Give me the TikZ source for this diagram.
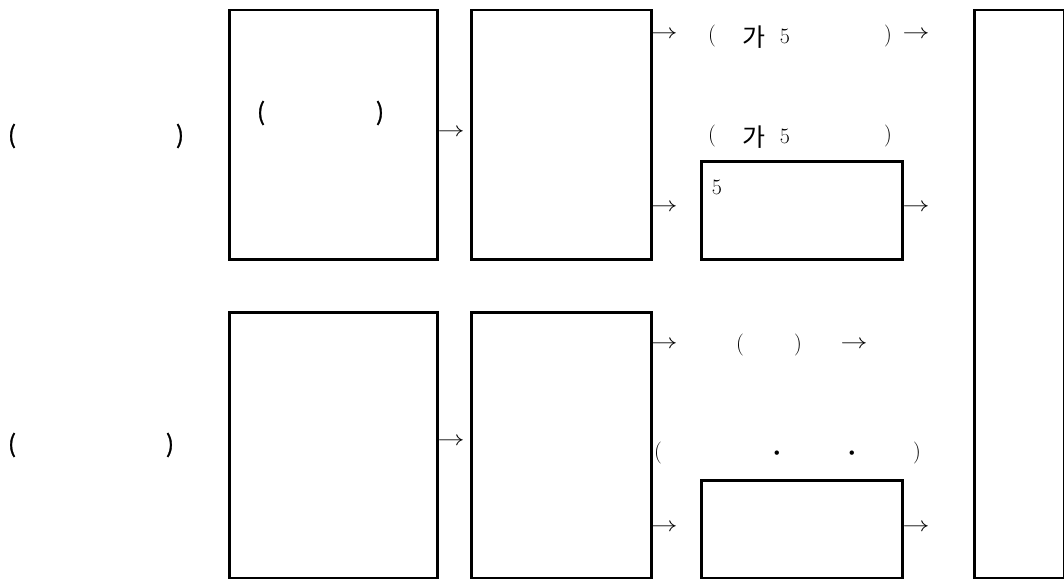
\documentclass[tikz,border=0pt]{standalone}
\usepackage{fontspec}
\usepackage{graphicx}
\newfontfamily\cjk{Noto Sans CJK KR}
\newfontfamily\cjkpar[FakeBold=1.2]{Noto Sans CJK KR}
\tikzset{
  box/.style={draw, line width=2.5pt, anchor=north west, inner sep=0},
  txt/.style={inner sep=0, font=\fontsize{22pt}{26pt}\selectfont},
  kor/.style={inner sep=0, font=\fontsize{25pt}{30pt}\selectfont\cjk},
  kpar/.style={inner sep=0, font=\fontsize{24pt}{28pt}\selectfont\cjkpar},
  arr/.style={inner sep=0, font=\fontsize{20pt}{24pt}\selectfont},
}
\newcommand{\rarr}{\scalebox{1.3}[1]{$\rightarrow$}}
\begin{document}
\begin{tikzpicture}[x=1pt,y=-1pt]
\useasboundingbox (0,0) rectangle (1064,578);
% boxes
\node[box, minimum width=208pt, minimum height=249pt] (A1) at (228,9) {};
\node[box, minimum width=180pt, minimum height=249pt] (B1) at (470,9) {};
\node[box, minimum width=201pt, minimum height=98pt] (C1) at (700,160) {};
\node[box, minimum width=208pt, minimum height=266pt] (A2) at (228,311) {};
\node[box, minimum width=180pt, minimum height=266pt] (B2) at (470,311) {};
\node[box, minimum width=201pt, minimum height=98pt] (C2) at (700,479) {};
\node[box, minimum width=90pt, minimum height=568pt] (D) at (973,9) {};
% left labels
\node[kpar] (l1o) at (12,136) {(};
\node[kpar] (l1c) at (180,136) {)};
\node[kpar] (l2o) at (12,445) {(};
\node[kpar] (l2c) at (170,445) {)};
% inside A1
\node[kpar] (a1o) at (261,113) {(};
\node[kpar] (a1c) at (380,113) {)};
% arrows A->B
\node[arr] (ab1) at (451,133) {\rarr};
\node[arr] (ab2) at (451,442) {\rarr};
% row 1 line 1
\node[arr] (r1a) at (664,35) {\rarr};
\node[txt] (r1o) at (712,36) {(};
\node[kor] (r1k) at (754,37) {가};
\node[txt] (r1f) at (785,36) {5};
\node[txt] (r1c) at (888,36) {)};
\node[arr] (r1b) at (916,35) {\rarr};
% row 1 line 2
\node[txt] (r2o) at (712,136) {(};
\node[kor] (r2k) at (754,137) {가};
\node[txt] (r2f) at (785,136) {5};
\node[txt] (r2c) at (888,136) {)};
% B1 -> C1 -> D
\node[arr] (bc1) at (664,208) {\rarr};
\node[txt] (c1t) at (717,187) {5};
\node[arr] (cd1) at (916,208) {\rarr};
% row 2 line 1
\node[arr] (s1a) at (664,345) {\rarr};
\node[txt] (s1o) at (740,345) {(};
\node[txt] (s1c) at (798,345) {)};
\node[arr] (s1b) at (854,345) {\rarr};
% row 2 line 2
\node[txt] (s2o) at (658,453) {(};
\node[txt] (s2d1) at (777,454) {\scalebox{2}{$\cdot$}};
\node[txt] (s2d2) at (852,454) {\scalebox{2}{$\cdot$}};
\node[txt] (s2c) at (917,453) {)};
% B2 -> C2 -> D
\node[arr] (bc2) at (664,528) {\rarr};
\node[arr] (cd2) at (916,528) {\rarr};
\end{tikzpicture}
\end{document}
